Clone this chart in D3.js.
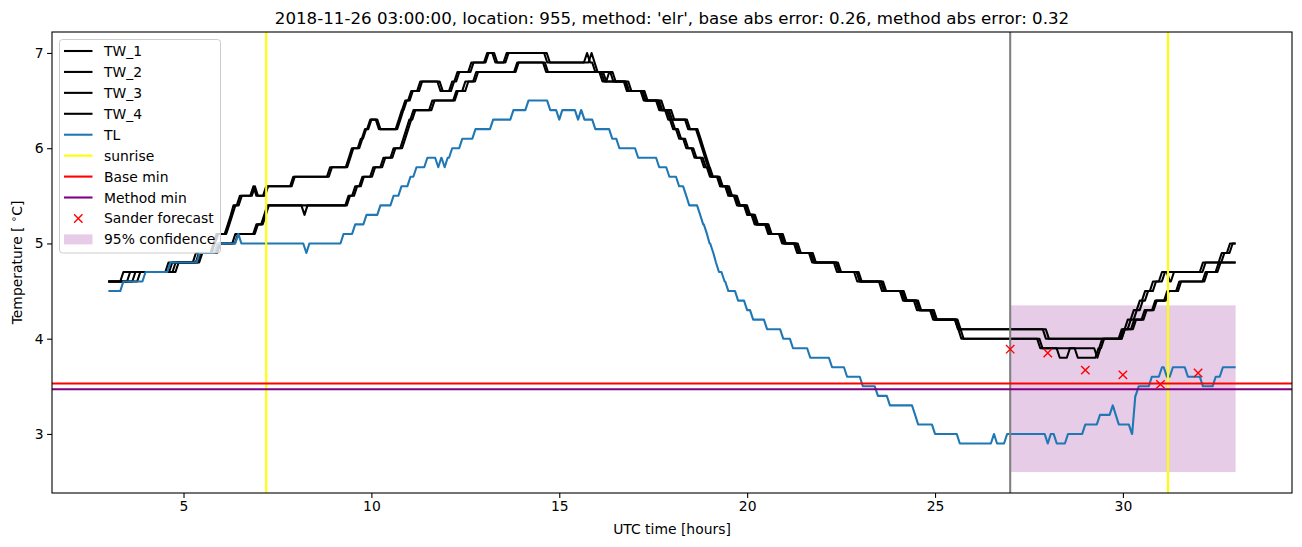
<!DOCTYPE html>
<html>
<head>
<meta charset="utf-8">
<script src="https://cdn.jsdelivr.net/npm/d3@7"></script>
<style>
  html, body { margin: 0; padding: 0; background: #fff; }
  svg { display: block; font-family: "DejaVu Sans", sans-serif; }
</style>
</head>
<body>
<svg id="chart" width="1302" height="547"></svg>
<script>
// ---------------- data ----------------
// Each series: runs of [start hour, value]; a value holds until the next run (5-minute samples).
const sampleStep = 1 / 12;   // hours between samples
const endHour = 33.0;

const tw1 = [[3.0,4.6],[3.40,4.7],[4.6,4.8],[5.33,4.9],[5.8,5.0],[5.88,5.1],[6.18,5.2],[6.26,5.3],[6.33,5.4],[6.5,5.5],[6.86,5.6],[6.94,5.5],[7.2,5.6],[7.92,5.7],[8.9,5.8],[9.4,5.9],[9.48,6.0],[9.72,6.1],[9.83,6.2],[9.97,6.3],[10.2,6.2],[10.73,6.3],[10.81,6.4],[10.9,6.5],[11.06,6.6],[11.3,6.7],[11.84,6.6],[12.15,6.7],[12.29,6.8],[12.66,6.9],[13.08,7.0],[13.3,6.9],[13.6,7.0],[14.68,6.9],[15.74,7.0],[15.82,6.9],[15.96,6.8],[16.25,6.7],[16.33,6.8],[16.44,6.7],[16.84,6.6],[17.29,6.5],[17.74,6.4],[18.0,6.3],[18.43,6.2],[18.72,6.1],[18.8,6.0],[18.88,5.9],[18.96,5.8],[19.05,5.7],[19.28,5.6],[19.5,5.5],[19.73,5.4],[20.0,5.3],[20.2,5.2],[20.56,5.1],[20.93,5.0],[21.33,4.9],[21.73,4.8],[22.39,4.7],[22.93,4.6],[23.59,4.5],[24.15,4.4],[24.52,4.3],[24.95,4.2],[25.61,4.1],[27.95,4.0],[30.0,4.1],[30.3,4.2],[30.58,4.3],[30.86,4.4],[31.18,4.5],[31.5,4.6],[32.2,4.7],[32.55,4.8]];

const tw2 = [[3.0,4.6],[3.58,4.7],[4.7,4.8],[5.41,4.9],[5.83,5.0],[5.92,5.1],[6.22,5.2],[6.3,5.3],[6.38,5.4],[6.55,5.5],[6.9,5.6],[6.98,5.5],[7.25,5.6],[7.96,5.7],[8.95,5.8],[9.44,5.9],[9.52,6.0],[9.76,6.1],[9.86,6.2],[10.0,6.3],[10.24,6.2],[10.77,6.3],[10.85,6.4],[10.94,6.5],[11.1,6.6],[11.35,6.7],[11.9,6.6],[12.2,6.7],[12.34,6.8],[12.72,6.9],[13.12,7.0],[13.35,6.9],[13.65,7.0],[14.75,6.9],[15.86,7.0],[15.94,6.9],[16.02,6.8],[16.5,6.7],[16.92,6.6],[17.35,6.5],[17.8,6.4],[18.06,6.3],[18.48,6.2],[18.76,6.1],[18.84,6.0],[18.92,5.9],[19.0,5.8],[19.09,5.7],[19.33,5.6],[19.55,5.5],[19.78,5.4],[20.05,5.3],[20.25,5.2],[20.62,5.1],[20.98,5.0],[21.38,4.9],[21.78,4.8],[22.45,4.7],[23.0,4.6],[23.65,4.5],[24.2,4.4],[24.58,4.3],[25.0,4.2],[25.66,4.1],[28.03,4.0],[30.05,4.1],[30.35,4.2],[30.63,4.3],[30.9,4.4],[31.22,4.5],[31.55,4.6],[32.25,4.7],[32.6,4.8]];

const tw3 = [[3.0,4.6],[3.72,4.7],[4.79,4.8],[5.45,4.9],[5.93,5.0],[6.38,5.1],[6.94,5.2],[7.15,5.3],[7.23,5.4],[8.22,5.3],[8.3,5.4],[9.39,5.5],[9.57,5.6],[9.76,5.7],[10.05,5.8],[10.32,5.9],[10.59,6.0],[10.85,6.1],[10.93,6.2],[11.01,6.3],[11.12,6.4],[11.62,6.5],[12.26,6.6],[12.5,6.7],[12.79,6.8],[13.88,6.9],[14.65,6.8],[16.15,6.7],[16.8,6.6],[17.25,6.5],[17.66,6.4],[17.9,6.3],[18.03,6.2],[18.19,6.1],[18.38,6.0],[18.6,5.9],[18.85,5.8],[19.01,5.7],[19.3,5.6],[19.55,5.5],[19.76,5.4],[20.03,5.3],[20.24,5.2],[20.6,5.1],[20.98,5.0],[21.38,4.9],[21.78,4.8],[22.45,4.7],[23.0,4.6],[23.65,4.5],[24.2,4.4],[24.58,4.3],[25.0,4.2],[25.62,4.1],[25.7,4.0],[27.8,3.9],[28.32,3.8],[28.59,3.9],[28.8,3.8],[29.35,3.9],[29.45,4.0],[29.97,4.1],[30.13,4.2],[30.29,4.3],[30.45,4.4],[30.59,4.5],[30.8,4.6],[31.04,4.7],[31.25,4.6],[31.36,4.7],[32.13,4.8],[32.63,4.9],[32.85,5.0]];

const tw4 = [[3.0,4.6],[3.85,4.7],[4.87,4.8],[5.5,4.9],[5.98,5.0],[6.45,5.1],[6.98,5.2],[7.19,5.3],[7.27,5.4],[9.43,5.5],[9.62,5.6],[9.8,5.7],[10.1,5.8],[10.37,5.9],[10.64,6.0],[10.9,6.1],[10.98,6.2],[11.06,6.3],[11.17,6.4],[11.68,6.5],[12.3,6.6],[12.58,6.7],[12.84,6.8],[13.92,6.9],[14.7,6.8],[16.2,6.7],[16.86,6.6],[17.3,6.5],[17.7,6.4],[17.95,6.3],[18.08,6.2],[18.24,6.1],[18.43,6.0],[18.65,5.9],[18.9,5.8],[19.05,5.7],[19.35,5.6],[19.6,5.5],[19.81,5.4],[20.08,5.3],[20.29,5.2],[20.65,5.1],[21.03,5.0],[21.43,4.9],[21.83,4.8],[22.5,4.7],[23.05,4.6],[23.7,4.5],[24.25,4.4],[24.63,4.3],[25.05,4.2],[25.68,4.1],[25.76,4.0],[27.86,3.9],[29.32,3.8],[29.4,3.9],[29.5,4.0],[30.05,4.1],[30.21,4.2],[30.37,4.3],[30.53,4.4],[30.67,4.5],[30.88,4.6],[31.12,4.7],[32.2,4.8],[32.7,4.9],[32.92,5.0]];

const tl = [[3.0,4.5],[3.40,4.6],[3.99,4.7],[4.65,4.8],[5.43,4.9],[5.9,5.0],[6.46,5.1],[6.54,5.0],[8.27,4.9],[8.35,5.0],[9.26,5.1],[9.57,5.2],[9.87,5.3],[10.24,5.4],[10.59,5.5],[10.8,5.6],[11.04,5.7],[11.2,5.8],[11.49,5.9],[11.78,5.8],[11.86,5.9],[11.95,5.8],[12.03,5.9],[12.15,6.0],[12.42,6.1],[12.77,6.2],[13.24,6.3],[13.78,6.4],[14.18,6.5],[14.76,6.4],[15.0,6.3],[15.08,6.4],[15.5,6.3],[15.58,6.4],[15.67,6.3],[15.96,6.2],[16.41,6.1],[16.6,6.0],[17.1,5.9],[17.66,5.8],[17.93,5.7],[18.19,5.6],[18.38,5.5],[18.46,5.4],[18.75,5.3],[18.83,5.2],[18.93,5.1],[19.0,5.0],[19.1,4.9],[19.17,4.8],[19.25,4.7],[19.4,4.6],[19.5,4.5],[19.76,4.4],[20.0,4.3],[20.16,4.2],[20.53,4.1],[20.96,4.0],[21.22,3.9],[21.68,3.8],[22.26,3.7],[22.66,3.6],[23.08,3.5],[23.48,3.4],[23.8,3.3],[24.47,3.2],[24.55,3.1],[25.0,3.0],[25.66,2.9],[26.57,3.0],[26.65,2.9],[26.92,3.0],[28.0,2.9],[28.08,3.0],[28.24,2.9],[28.54,3.0],[29.0,3.1],[29.39,3.2],[29.73,3.3],[29.81,3.2],[29.89,3.1],[30.24,3.0],[30.33,3.4],[30.42,3.5],[30.77,3.6],[31.04,3.7],[31.17,3.6],[31.33,3.7],[31.73,3.6],[32.13,3.5],[32.47,3.6],[32.66,3.7]];

const sunriseHours = [7.2, 31.2];
const forecastHour = 27.0;
const baseMin = 3.53;
const methodMin = 3.47;
const sanderHours = [27, 28, 29, 30, 31, 32];
const sanderValues = [3.89, 3.85, 3.67, 3.62, 3.52, 3.64];
const confHours = [27, 33];
const confLow = 2.60;
const confHigh = 4.35;

const xTicks = [5, 10, 15, 20, 25, 30];
const yTicks = [3, 4, 5, 6, 7];
const legendLabels = ["TW_1", "TW_2", "TW_3", "TW_4", "TL", "sunrise", "Base min", "Method min", "Sander forecast", "95% confidence"];
const titleText = "2018-11-26 03:00:00, location: 955, method: 'elr', base abs error: 0.26, method abs error: 0.32";

// ---------------- drawing ----------------
const svg = d3.select("#chart");
const L = 52, R = 1292, T = 32, B = 493;
const x = d3.scaleLinear().domain([1.5, 34.5]).range([L, R]);
const y = d3.scaleLinear().domain([2.38, 7.22]).range([B, T]);

const purple = "#800080";
const blue = "#1f77b4";
const LW = 2.08;

// expand runs into polyline vertices (value held until one sample before next change)
function runsToPoints(runs) {
  const pts = [];
  for (let i = 0; i < runs.length; i++) {
    const [t, v] = runs[i];
    pts.push([t, v]);
    const next = i + 1 < runs.length ? runs[i + 1][0] - sampleStep : endHour;
    if (next > t + 1e-6) pts.push([next, v]);
  }
  return pts;
}
const line = d3.line().x(d => x(d[0])).y(d => y(d[1]));

const plot = svg.append("g");

// confidence band (beneath lines)
plot.append("rect")
  .attr("x", x(confHours[0])).attr("width", x(confHours[1]) - x(confHours[0]))
  .attr("y", y(confHigh)).attr("height", y(confLow) - y(confHigh))
  .attr("fill", purple).attr("fill-opacity", 0.2);

[tw1, tw2, tw3, tw4].forEach(s => {
  plot.append("path").attr("d", line(runsToPoints(s)))
    .attr("fill", "none").attr("stroke", "#000").attr("stroke-width", LW)
    .attr("stroke-linejoin", "round");
});
plot.append("path").attr("d", line(runsToPoints(tl)))
  .attr("fill", "none").attr("stroke", blue).attr("stroke-width", LW)
  .attr("stroke-linejoin", "round");

sunriseHours.forEach(h => {
  plot.append("line").attr("x1", x(h)).attr("x2", x(h)).attr("y1", T).attr("y2", B)
    .attr("stroke", "#ffff00").attr("stroke-width", LW);
});
plot.append("line").attr("x1", x(forecastHour)).attr("x2", x(forecastHour)).attr("y1", T).attr("y2", B)
  .attr("stroke", "#808080").attr("stroke-width", LW);
plot.append("line").attr("x1", L).attr("x2", R).attr("y1", y(baseMin)).attr("y2", y(baseMin))
  .attr("stroke", "#ff0000").attr("stroke-width", LW);
plot.append("line").attr("x1", L).attr("x2", R).attr("y1", y(methodMin)).attr("y2", y(methodMin))
  .attr("stroke", purple).attr("stroke-width", LW);

function drawX(g, cx, cy, s) {
  g.append("path").attr("d", `M${cx - s},${cy - s}L${cx + s},${cy + s}M${cx - s},${cy + s}L${cx + s},${cy - s}`)
    .attr("stroke", "#ff0000").attr("stroke-width", 1.4).attr("fill", "none");
}
sanderHours.forEach((h, i) => drawX(plot, x(h), y(sanderValues[i]), 4.2));

// axes frame
svg.append("rect").attr("x", L).attr("y", T).attr("width", R - L).attr("height", B - T)
  .attr("fill", "none").attr("stroke", "#000").attr("stroke-width", 1.1);

// x axis
const xAxis = d3.axisBottom(x).tickValues(xTicks).tickSize(4.9).tickPadding(3.5).tickFormat(d3.format("d"));
const gx = svg.append("g").attr("transform", `translate(0,${B})`).call(xAxis);
gx.select(".domain").remove();
gx.selectAll("line").attr("stroke", "#000").attr("stroke-width", 1.1);
gx.selectAll("text").attr("font-size", 13.9).attr("font-family", "DejaVu Sans").attr("fill", "#000");

const yAxis = d3.axisLeft(y).tickValues(yTicks).tickSize(4.9).tickPadding(3.5).tickFormat(d3.format("d"));
const gy = svg.append("g").attr("transform", `translate(${L},0)`).call(yAxis);
gy.select(".domain").remove();
gy.selectAll("line").attr("stroke", "#000").attr("stroke-width", 1.1);
gy.selectAll("text").attr("font-size", 13.9).attr("font-family", "DejaVu Sans").attr("fill", "#000");

// labels
svg.append("text").attr("x", (L + R) / 2).attr("y", 534).attr("text-anchor", "middle")
  .attr("font-size", 13.9).text("UTC time [hours]");
const yl = svg.append("text").attr("transform", `translate(22,${(T + B) / 2}) rotate(-90)`)
  .attr("text-anchor", "middle").attr("font-size", 13.9);
yl.append("tspan").text("Temperature [ ");
yl.append("tspan").attr("font-size", 10).attr("dy", -5).text("∘");
yl.append("tspan").attr("dy", 5).text("C]");

svg.append("text").attr("x", (L + R) / 2).attr("y", 24).attr("text-anchor", "middle")
  .attr("font-size", 16.67).text(titleText);

// legend
const lg = svg.append("g");
lg.append("rect").attr("x", 59.5).attr("y", 39.5).attr("width", 161).attr("height", 213.5)
  .attr("rx", 3).attr("fill", "#fff").attr("fill-opacity", 0.8)
  .attr("stroke", "#cccccc").attr("stroke-width", 1);
const legendColors = ["#000", "#000", "#000", "#000", blue, "#ffff00", "#ff0000", purple];
const row0 = 51, rowGap = 20.93;
legendLabels.forEach((lab, i) => {
  const cy = row0 + i * rowGap;
  if (i < legendColors.length) {
    lg.append("line").attr("x1", 64).attr("x2", 92.5).attr("y1", cy).attr("y2", cy)
      .attr("stroke", legendColors[i]).attr("stroke-width", LW);
  } else if (i === 8) {
    drawX(lg, 78.3, cy, 4.2);
  } else {
    lg.append("rect").attr("x", 64).attr("y", cy - 5).attr("width", 28.5).attr("height", 10)
      .attr("fill", purple).attr("fill-opacity", 0.2);
  }
  lg.append("text").attr("x", 104).attr("y", cy).attr("dy", "0.36em")
    .attr("font-size", 13.9).text(lab);
});
</script>
</body>
</html>
